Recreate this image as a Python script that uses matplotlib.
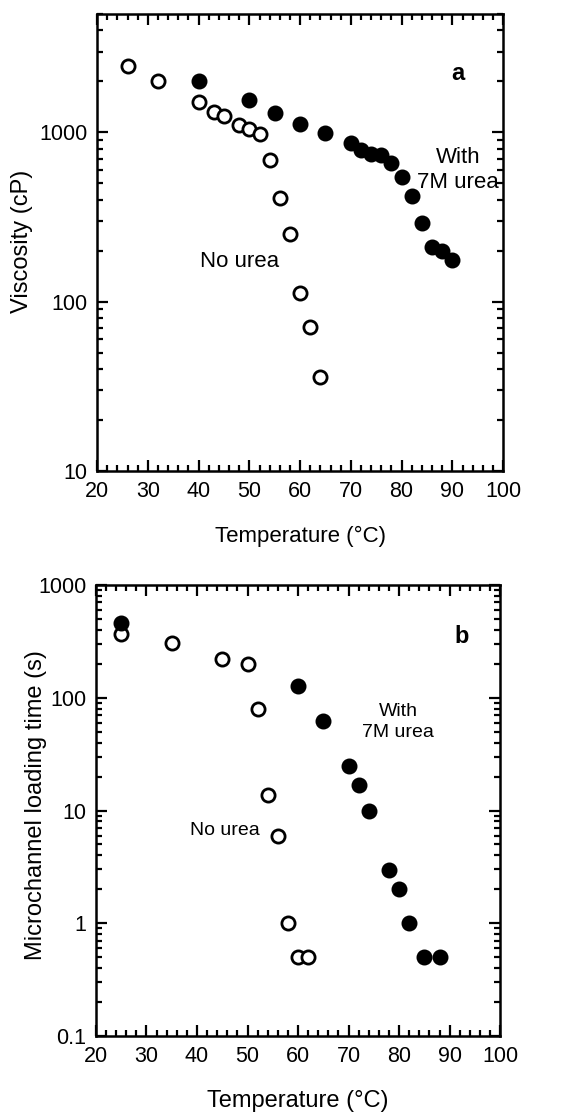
import matplotlib
matplotlib.use("Agg")
import matplotlib.pyplot as plt
from matplotlib.ticker import MultipleLocator, LogLocator, NullFormatter, FixedLocator

plt.rcParams['font.family'] = ['Liberation Sans', 'DejaVu Sans']

# panel a: viscosity
visc_no_urea_T = [26, 32, 40, 43, 45, 48, 50, 52, 54, 56, 58, 60, 62, 64]
visc_no_urea = [2480, 2020, 1510, 1320, 1250, 1110, 1050, 980, 690, 410, 251, 112, 71, 36]
visc_urea_T = [40, 50, 55, 60, 65, 70, 72, 74, 76, 78, 80, 82, 84, 86, 88, 90]
visc_urea = [2020, 1560, 1310, 1120, 990, 860, 790, 750, 735, 655, 542, 421, 291, 210, 199, 177]

# panel b: microchannel loading time
load_no_urea_T = [25, 35, 45, 50, 52, 54, 56, 58, 60, 62]
load_no_urea = [366, 303, 219, 199, 79, 13.7, 5.9, 1.0, 0.5, 0.5]
load_urea_T = [25, 60, 65, 70, 72, 74, 78, 80, 82, 85, 88]
load_urea = [457, 128, 62, 24.6, 17, 10, 2.95, 2.0, 1.0, 0.5, 0.5]

x_ticks = [20, 30, 40, 50, 60, 70, 80, 90, 100]

fig = plt.figure(figsize=(5.85, 11.12), dpi=100)
ax1 = fig.add_axes([0.166, 0.5764, 0.694, 0.411])
ax2 = fig.add_axes([0.164, 0.0683, 0.691, 0.4056])


def style(ax, ylim, tick_fs):
    ax.set_yscale('log')
    ax.set_xlim(20, 100)
    ax.set_ylim(*ylim)
    ax.xaxis.set_major_locator(FixedLocator(x_ticks))
    ax.xaxis.set_minor_locator(MultipleLocator(2))
    ax.yaxis.set_major_locator(LogLocator(base=10))
    ax.yaxis.set_minor_locator(LogLocator(base=10, subs=range(2, 10)))
    ax.yaxis.set_minor_formatter(NullFormatter())
    ax.yaxis.set_major_formatter(plt.FuncFormatter(lambda v, p: f"{v:g}"))
    ax.tick_params(which='both', direction='in', top=True, right=True, width=1.6)
    ax.tick_params(which='major', length=8, labelsize=tick_fs, pad=7)
    ax.tick_params(which='minor', length=4)
    for s in ax.spines.values():
        s.set_linewidth(1.8)


ms = 9.5
mew = 2.0

ax1.plot(visc_no_urea_T, visc_no_urea, 'o', mfc='white', mec='black', ms=ms, mew=mew, ls='none')
ax1.plot(visc_urea_T, visc_urea, 'o', mfc='black', mec='black', ms=ms, mew=mew, ls='none')
style(ax1, (10, 5000), 15.5)
ax1.set_xlabel("Temperature (°C)", fontsize=16, labelpad=17)
ax1.set_ylabel("Viscosity (cP)", fontsize=17)
ax1.yaxis.set_label_coords(-0.158, 0.502)
ax1.text(91.1, 2220, "a", fontsize=17, fontweight='bold', ha='center', va='center')
ax1.text(91.1, 600, "With\n7M urea", fontsize=16, ha='center', va='center', linespacing=1.3)
ax1.text(48, 172, "No urea", fontsize=16, ha='center', va='center')

ax2.plot(load_no_urea_T, load_no_urea, 'o', mfc='white', mec='black', ms=ms, mew=mew, ls='none')
ax2.plot(load_urea_T, load_urea, 'o', mfc='black', mec='black', ms=ms, mew=mew, ls='none')
style(ax2, (0.1, 1000), 15.5)
ax2.set_xlabel("Temperature (°C)", fontsize=17, labelpad=17)
ax2.set_ylabel("Microchannel loading time (s)", fontsize=17)
ax2.yaxis.set_label_coords(-0.121, 0.512)
ax2.text(92.4, 353, "b", fontsize=17, fontweight='bold', ha='center', va='center')
ax2.text(79.8, 61, "With\n7M urea", fontsize=14, ha='center', va='center', linespacing=1.3)
ax2.text(45.5, 6.7, "No urea", fontsize=14, ha='center', va='center')

fig.savefig("out.png", dpi=100)
